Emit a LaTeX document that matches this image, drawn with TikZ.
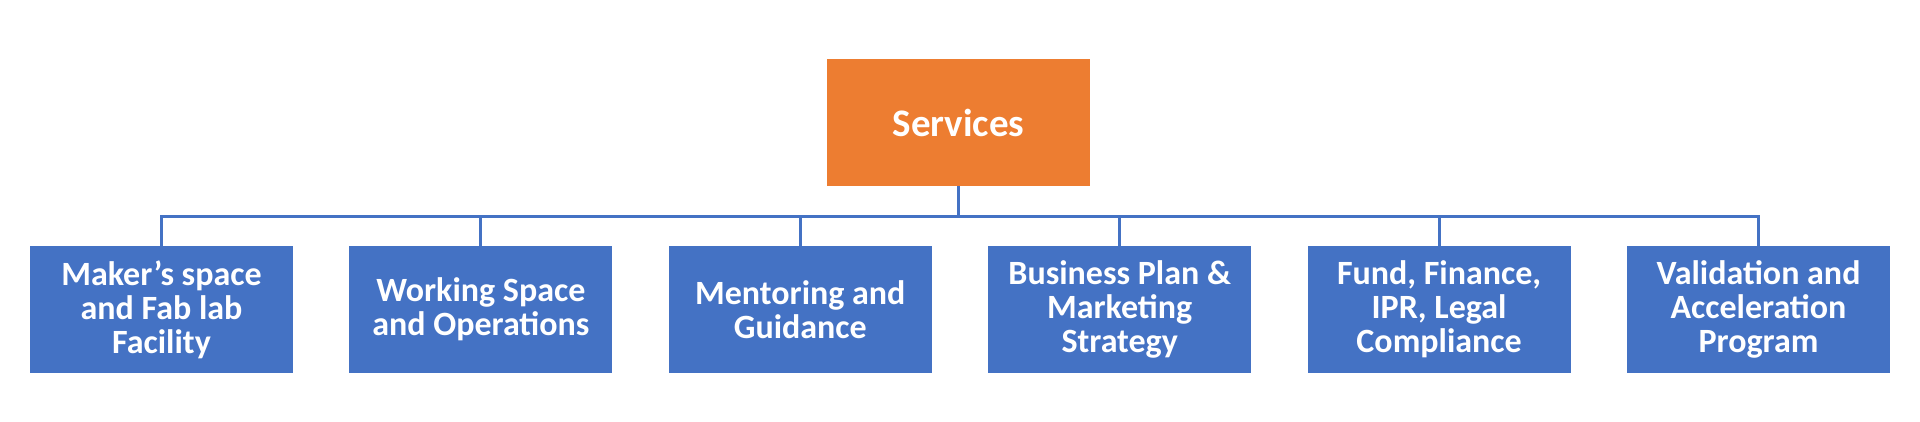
\documentclass[tikz,border=0pt]{standalone}
\usepackage{fontspec}
\setmainfont{Carlito}
\usepackage{tikz}
\usetikzlibrary{positioning}

\definecolor{boxblue}{HTML}{4472C4}
\definecolor{boxorange}{HTML}{ED7D31}

\tikzset{
  topbox/.style={fill=boxorange, minimum width=263pt, minimum height=127pt, inner sep=0pt,
    text=white, font=\bfseries\fontsize{39}{44}\selectfont},
  subbox/.style={fill=boxblue, minimum width=263pt, minimum height=127pt, inner sep=0pt,
    text=white, align=center, font=\bfseries\fontsize{34}{34}\selectfont},
  link/.style={draw=boxblue, line width=3pt}
}

\begin{document}
\begin{tikzpicture}[x=1pt, y=1pt]
    \useasboundingbox (0,0) rectangle (1920,421);

    % Draw top box
    \node[topbox] (serv) at (958.5,298.5) {Services};
    \coordinate[below=30pt of serv.south] (bus);

    % Draw service boxes and links
    \draw[link] (serv.south) -- (bus);
    \foreach \i/\t in {1/{Maker’s space\\and Fab lab\\Facility}, 2/{Working Space\\and Operations}, 3/{Mentoring and\\Guidance}, 4/{Business Plan \&\\Marketing\\Strategy}, 5/{Fund, Finance,\\IPR, Legal\\Compliance}, 6/{Validation and\\Acceleration\\Program}} {
      \pgfmathsetmacro{\x}{161.5+319.4*(\i-1)}
      \node[subbox] (s\i) at (\x,111.5) {\t};
      \draw[link] (bus) -| (s\i.north);
    }

  \end{tikzpicture}
\end{document}
